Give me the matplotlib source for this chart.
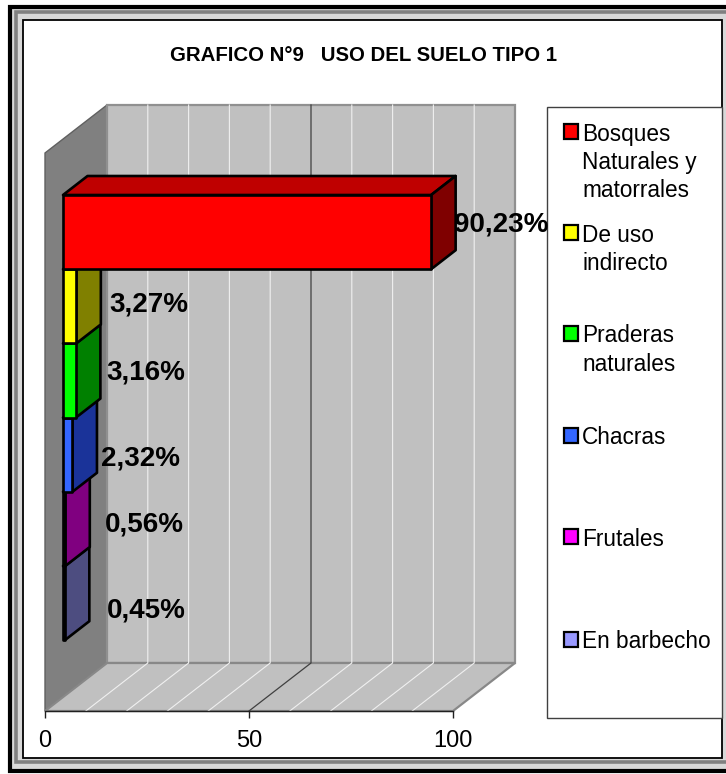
"""Grafico N°9 - uso del suelo tipo 1, barras con efecto 3D."""

import matplotlib
matplotlib.use("Agg")
import matplotlib.pyplot as plt
from matplotlib.patches import Polygon, Rectangle

plt.rcParams['font.family'] = ['Liberation Sans', 'DejaVu Sans']

W, H = 726, 774

TITLE = "GRAFICO N°9   USO DEL SUELO TIPO 1"
categories = ["Bosques\nNaturales y\nmatorrales", "De uso\nindirecto", "Praderas\nnaturales",
              "Chacras", "Frutales", "En barbecho"]
values = [90.23, 3.27, 3.16, 2.32, 0.56, 0.45]
value_labels = ["90,23%", "3,27%", "3,16%", "2,32%", "0,56%", "0,45%"]
x_ticks = [0, 50, 100]
grid_values = [10, 20, 30, 40, 60, 70, 80, 90]

front_colors = ["#FF0000", "#FFFF00", "#00FF00", "#3366FF", "#FF00FF", "#9999FF"]
side_colors = ["#7F0000", "#808000", "#008000", "#1A3399", "#800080", "#4D4D80"]
top_colors = ["#BF0000", "#BFBF00", "#00BF00", "#264CBF", "#BF00BF", "#7373BF"]

# pixel layout of the chart
PX_X0, PX_PER_UNIT = 45, 4.08     # value 0 on the front edge of the floor
PX_BAR_TOP, PX_BAND = 195, 74.2   # top of first bar, height of one bar
FLOOR_Y = 711
WALL_TOP_Y = 153
WALL_DX, WALL_DY = 62, -48
BAR_X0 = 18 / PX_PER_UNIT         # bars start this far right of the axis
BAR_DX, BAR_DY = 24.5, -19

label_x = [501, 149, 146, 141, 144, 146]
label_y = [225, 305, 372, 458, 525, 610]
legend_y = [132, 233, 334, 436, 537, 640]


def xpx(px):
    return (px - PX_X0) / PX_PER_UNIT


def ypx(px):
    return (px - PX_BAR_TOP) / PX_BAND


def plot_chart(save_path="out.png"):
    fig = plt.figure(figsize=(W / 100, H / 100), dpi=100, facecolor='white')

    # frame, title and legend live in plain pixel coordinates
    bg = fig.add_axes([0, 0, 1, 1], zorder=0)
    bg.set_xlim(0, W)
    bg.set_ylim(H, 0)
    bg.axis('off')
    bg.add_patch(Rectangle((10, 7), 730, 764, fc='#D8D8D8', ec='black', lw=3))
    bg.add_patch(Rectangle((15.5, 12), 720, 750, fc='#D8D8D8', ec='#808080', lw=2.6))
    bg.add_patch(Rectangle((22.5, 20), 699.5, 738, fc='white', ec='black', lw=1.3))
    bg.text(364, 55.5, TITLE, ha='center', va='center', fontsize=14.7, fontweight='bold')

    bg.add_patch(Rectangle((547, 107), 175, 610.5, fc='white', ec='#404040', lw=1))
    for name, color, y in zip(categories, front_colors, legend_y):
        bg.add_patch(Rectangle((563.5, y - 8), 14, 15, fc=color, ec='black', lw=1.6))
        bg.text(582, y - 9.5, name, ha='left', va='top', fontsize=16.3, linespacing=1.3)

    # chart axes: x in data values, y in bar bands
    ax = fig.add_axes([0, 0, 1, 1], zorder=1)
    ax.patch.set_visible(False)
    ax.set_xlim(xpx(0), xpx(W))
    ax.set_ylim(ypx(H), ypx(0))

    dx, dy = WALL_DX / PX_PER_UNIT, WALL_DY / PX_BAND
    floor, top = ypx(FLOOR_Y), ypx(WALL_TOP_Y)

    # walls and floor
    ax.add_patch(Polygon([(0, top), (dx, top + dy), (dx, floor + dy), (0, floor)],
                         fc='#808080', ec='#606060', lw=1, zorder=1))
    ax.add_patch(Polygon([(dx, top + dy), (100 + dx, top + dy), (100 + dx, floor + dy), (dx, floor + dy)],
                         fc='#C0C0C0', ec='#909090', lw=1.6, zorder=1))
    ax.add_patch(Polygon([(0, floor), (dx, floor + dy), (100 + dx, floor + dy), (100, floor)],
                         fc='#C0C0C0', ec='#888888', lw=1.6, zorder=1))

    for v in grid_values:
        ax.plot([v, v + dx, v + dx], [floor, floor + dy, top + dy], color='#F0F0F0', lw=0.8, zorder=2)
    ax.plot([50, 50 + dx, 50 + dx], [floor, floor + dy, top + dy], color='#404040', lw=0.9, zorder=2)

    # bars, from the bottom one up so the upper ones overlap
    bdx, bdy = BAR_DX / PX_PER_UNIT, BAR_DY / PX_BAND
    for i in range(len(values) - 1, -1, -1):
        x0, x1 = BAR_X0, BAR_X0 + values[i]
        kw = dict(ec='black', lw=1.9, joinstyle='round', zorder=3)
        ax.add_patch(Polygon([(x0, i), (x0 + bdx, i + bdy), (x1 + bdx, i + bdy), (x1, i)],
                             fc=top_colors[i], **kw))
        ax.add_patch(Polygon([(x1, i), (x1 + bdx, i + bdy), (x1 + bdx, i + 1 + bdy), (x1, i + 1)],
                             fc=side_colors[i], **kw))
        ax.add_patch(Rectangle((x0, i), values[i], 1, fc=front_colors[i], **kw))

    for text, x, y in zip(value_labels, label_x, label_y):
        ax.text(x, y, text, transform=bg.transData, ha='center', va='center',
                fontsize=20, fontweight='bold', color='black', zorder=5)

    # value axis along the front edge of the floor
    for side in ['top', 'left', 'right']:
        ax.spines[side].set_visible(False)
    ax.spines['bottom'].set_position(('data', floor))
    ax.spines['bottom'].set_bounds(0, 100)
    ax.spines['bottom'].set_linewidth(1)
    ax.spines['bottom'].set_color('#202020')
    ax.spines['bottom'].set_zorder(4)
    ax.set_yticks([])
    ax.set_xticks(x_ticks)
    ax.tick_params(axis='x', length=5, width=1, color='#202020', labelsize=17, pad=9)

    fig.savefig(save_path, dpi=100)
    plt.close(fig)


if __name__ == "__main__":
    plot_chart()
